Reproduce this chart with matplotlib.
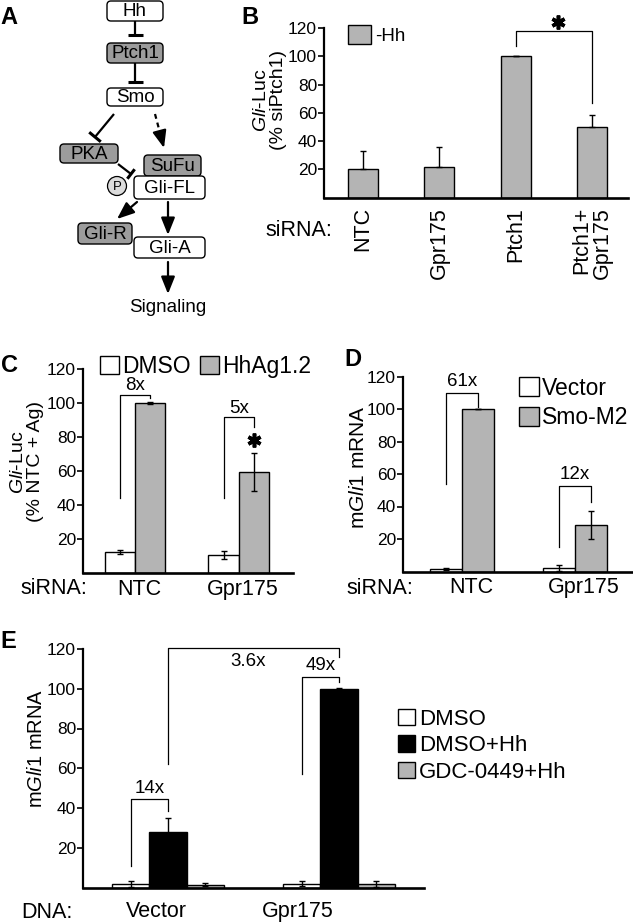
import numpy as np
import matplotlib
matplotlib.use("Agg")
import matplotlib.pyplot as plt
from matplotlib.patches import FancyBboxPatch, Circle

plt.rcParams["font.family"] = ["Liberation Sans", "DejaVu Sans"]
plt.rcParams["mathtext.fontset"] = "custom"
plt.rcParams["mathtext.rm"] = "Liberation Sans"
plt.rcParams["mathtext.it"] = "Liberation Sans:italic"

W, H = 633, 924
GREY = "#b4b4b4"
DARK = "#9c9c9c"
TICK_FS = 12.5
XLAB_FS = 15.5
FOLD_FS = 13.5
LEG_FS = 16.5

# ---- panel A: pathway nodes ----
A_NODES = ["Hh", "Ptch1", "Smo", "PKA", "SuFu", "Gli-FL", "Gli-R", "Gli-A"]
A_FILLED = [False, True, False, True, True, False, True, False]

# ---- panel B ----
B_LABELS = ["NTC", "Gpr175", "Ptch1", "Ptch1+\nGpr175"]
B_VALUES = [20, 21.5, 100, 50]
B_ERR = [13, 14.5, 0, 8.5]
B_SIG = [107, 118, 67]          # left leg, top, right leg

# ---- panel C ----
C_GROUPS = ["NTC", "Gpr175"]
C_DMSO = [12.3, 10.8]
C_DMSO_ERR = [1.3, 2.4]
C_AG = [100, 59.5]
C_AG_ERR = [0.4, 11]
C_FOLD = ["8x", "5x"]
C_BRACKET = [[44, 105, 103], [44, 92, 86]]
C_STAR = [False, True]

# ---- panel D ----
D_GROUPS = ["NTC", "Gpr175"]
D_VECTOR = [1.5, 2.0]
D_VECTOR_ERR = [0.8, 1.8]
D_SMO = [100, 28.5]
D_SMO_ERR = [0.3, 8.5]
D_FOLD = ["61x", "12x"]
D_BRACKET = [[54, 110, 101], [15, 52.5, 43]]

# ---- panel E ----
E_GROUPS = ["Vector", "Gpr175"]
E_DMSO = [2.0, 2.0]
E_DMSO_ERR = [1.5, 1.2]
E_HH = [28, 100]
E_HH_ERR = [7, 0.5]
E_GDC = [1.5, 1.8]
E_GDC_ERR = [0.8, 1.5]
E_FOLD = ["14x", "49x"]
E_BRACKET = [[11, 44.5, 38.5], [57, 106, 103.5]]
E_ACROSS = "3.6x"
E_ACROSS_BRACKET = [62, 120.5, 116]


def fx(px):
    return px / W


def fy(py):
    return 1 - py / H


def axes_px(left, top, right, bottom):
    return fig.add_axes([fx(left), fy(bottom), (right - left) / W, (bottom - top) / H])


def style(ax, xlim):
    ax.set_xlim(*xlim)
    ax.set_ylim(0, 120)
    ax.set_yticks([20, 40, 60, 80, 100, 120])
    for s in ["top", "right"]:
        ax.spines[s].set_visible(False)
    ax.spines["left"].set_linewidth(1.6)
    ax.spines["bottom"].set_linewidth(1.9)
    ax.tick_params(axis="y", direction="out", length=4, width=1.2, pad=1, labelsize=TICK_FS)
    ax.tick_params(axis="x", length=0, labelsize=XLAB_FS)


def bracket(ax, x0, x1, levels, text=None, tx=None, ty=None):
    y0, top, y1 = levels
    ax.plot([x0, x0, x1, x1], [y0, top, top, y1], color="black", lw=0.9, clip_on=False)
    if text:
        ax.text((x0 + x1) / 2 if tx is None else tx, top + 5 if ty is None else ty, text,
                ha="center", va="center", fontsize=FOLD_FS)


def star(ax, x, y):
    ax.plot(x, y, marker=(6, 2, 0), ms=10, mew=2.6, color="black", clip_on=False)


ERR_KW = dict(elinewidth=1.0, capthick=1.0, ecolor="black")

fig = plt.figure(figsize=(W / 100, H / 100), dpi=100)

# ================= A =================
axA = axes_px(0, 0, 230, 320)
axA.set_xlim(0, 230)
axA.set_ylim(320, 0)
axA.axis("off")

A_BOX = {"Hh": (107, 1, 163, 21), "Ptch1": (107, 43, 163, 63), "Smo": (107, 88, 163, 106),
         "PKA": (60, 144, 118, 163), "SuFu": (144, 155, 201, 176), "Gli-FL": (134, 176, 205, 199),
         "Gli-R": (78, 223, 132, 244), "Gli-A": (134, 237, 205, 258)}
for name, filled in zip(A_NODES, A_FILLED):
    x0, y0, x1, y1 = A_BOX[name]
    axA.add_patch(FancyBboxPatch((x0, y0), x1 - x0, y1 - y0, boxstyle="round,pad=0,rounding_size=4",
                                 fc=DARK if filled else "white", ec="black", lw=1.0))
    axA.text((x0 + x1) / 2, (y0 + y1) / 2 + 1, name, ha="center", va="center", fontsize=13.5)

axA.add_patch(Circle((117, 186), 9.5, fc="#dcdcdc", ec="black", lw=0.9))
axA.text(117, 187, "P", ha="center", va="center", fontsize=9.5)


def tbar(p0, p1, half=7.5):
    p0 = np.array(p0, float)
    p1 = np.array(p1, float)
    d = (p1 - p0) / np.linalg.norm(p1 - p0)
    n = np.array([-d[1], d[0]])
    axA.plot([p0[0], p1[0]], [p0[1], p1[1]], color="black", lw=1.6, solid_capstyle="butt")
    a, b = p1 + n * half, p1 - n * half
    axA.plot([a[0], b[0]], [a[1], b[1]], color="black", lw=2.2, solid_capstyle="butt")


def arrow(p0, p1, dashed=False):
    p0 = np.array(p0, float)
    p1 = np.array(p1, float)
    if dashed:
        # dashed shaft, then a solid head
        d = (p1 - p0) / np.linalg.norm(p1 - p0)
        mid = p1 - d * 9
        axA.plot([p0[0], mid[0]], [p0[1], mid[1]], color="black", lw=1.6, ls=(0, (2.2, 1.8)))
        p0 = mid - d * 0.5
    axA.annotate("", xy=p1, xytext=p0,
                 arrowprops=dict(arrowstyle="-|>,head_length=0.8,head_width=0.32", lw=1.6,
                                 color="black", shrinkA=0, shrinkB=0, mutation_scale=13))


tbar((135, 21), (135, 35))
tbar((135, 63), (135, 82))
tbar((114, 114), (95, 137))
tbar((118, 164), (131, 174), half=6)
arrow((155, 114), (164, 148), dashed=True)
arrow((137, 202), (117, 219))
arrow((168, 202), (168, 235))
arrow((168, 262), (168, 294))
axA.text(168, 307, "Signaling", ha="center", va="center", fontsize=13.5)

# ================= B =================
axB = axes_px(324, 28, 628, 197.5)
xb = np.arange(len(B_LABELS))
barsB = axB.bar(xb, B_VALUES, 0.39, color=GREY, edgecolor="black", lw=1.0,
                yerr=[np.zeros(len(B_ERR)), B_ERR], capsize=2.5, error_kw=ERR_KW)
style(axB, (-0.51, 3.47))
axB.set_xticks(xb)
axB.set_xticklabels(B_LABELS, rotation=90, va="top", ha="center", multialignment="right",
                    linespacing=0.95)
axB.tick_params(axis="x", pad=7)
bracket(axB, xb[2], xb[3], B_SIG)
star(axB, (xb[2] + xb[3]) / 2 + 0.05, 124)
axB.legend([barsB], ["-Hh"], loc="upper left", bbox_to_anchor=(0.079, 1.018), frameon=False,
           borderaxespad=0, borderpad=0, handlelength=1.2, handleheight=1.2,
           handletextpad=0.25, fontsize=13.5)
fig.text(fx(270), fy(100), r"$\mathit{Gli}$-Luc" + "\n(% siPtch1)", rotation=90,
         ha="center", va="center", fontsize=14, linespacing=1.0)
fig.text(fx(332), fy(230), "siRNA:", ha="right", va="center", fontsize=XLAB_FS)

# ================= C =================
axC = axes_px(83, 369, 293, 573)
xc = np.arange(len(C_GROUPS))
wc = 0.293
barsC1 = axC.bar(xc - wc / 2, C_DMSO, wc, color="white", edgecolor="black", lw=1.0,
                 yerr=C_DMSO_ERR, capsize=2, error_kw=ERR_KW)
barsC2 = axC.bar(xc + wc / 2, C_AG, wc, color=GREY, edgecolor="black", lw=1.0,
                 yerr=C_AG_ERR, capsize=2, error_kw=ERR_KW)
style(axC, (-0.5, 1.52))
axC.set_xticks(xc + 0.04)
axC.set_xticklabels(C_GROUPS)
axC.tick_params(axis="x", pad=4)
for i in range(len(C_GROUPS)):
    bracket(axC, xc[i] - wc / 2, xc[i] + wc / 2, C_BRACKET[i], C_FOLD[i])
    if C_STAR[i]:
        star(axC, xc[i] + wc / 2, C_AG[i] + C_AG_ERR[i] + 8)
axC.legend([barsC1, barsC2], ["DMSO", "HhAg1.2"], ncol=2, loc="upper left",
           bbox_to_anchor=(0.081, 1.07), frameon=False, borderaxespad=0, borderpad=0,
           handlelength=0.82, handleheight=0.85, handletextpad=0.15, columnspacing=0.4,
           fontsize=LEG_FS)
fig.text(fx(27), fy(462), r"$\mathit{Gli}$-Luc" + "\n(% NTC + Ag)", rotation=90,
         ha="center", va="center", fontsize=14, linespacing=1.0)
fig.text(fx(87), fy(588), "siRNA:", ha="right", va="center", fontsize=XLAB_FS)

# ================= D =================
axD = axes_px(403, 376.5, 632, 571.5)
xd = np.arange(len(D_GROUPS))
wd = 0.283
barsD1 = axD.bar(xd - wd / 2, D_VECTOR, wd, color="white", edgecolor="black", lw=1.0,
                 yerr=D_VECTOR_ERR, capsize=2, error_kw=ERR_KW)
barsD2 = axD.bar(xd + wd / 2, D_SMO, wd, color=GREY, edgecolor="black", lw=1.0,
                 yerr=D_SMO_ERR, capsize=2, error_kw=ERR_KW)
style(axD, (-0.522, 1.504))
axD.set_xticks(xd + 0.08)
axD.set_xticklabels(D_GROUPS)
axD.tick_params(axis="x", pad=4)
for i in range(len(D_GROUPS)):
    bracket(axD, xd[i] - wd / 2, xd[i] + wd / 2, D_BRACKET[i], D_FOLD[i], ty=D_BRACKET[i][1] + 7)
axD.legend([barsD1, barsD2], ["Vector", "Smo-M2"], loc="upper left",
           bbox_to_anchor=(0.507, 1.0), frameon=False, borderaxespad=0, borderpad=0,
           handlelength=0.85, handleheight=0.85, handletextpad=0.15, labelspacing=0.3,
           fontsize=LEG_FS)
fig.text(fx(358), fy(467), r"m$\mathit{Gli1}$ mRNA", rotation=90,
         ha="center", va="center", fontsize=15)
fig.text(fx(413), fy(588), "siRNA:", ha="right", va="center", fontsize=XLAB_FS)

# ================= E =================
axE = axes_px(83, 649, 424, 887.5)
xe = np.arange(len(E_GROUPS))
we = 0.219
barsE1 = axE.bar(xe - we, E_DMSO, we, color="white", edgecolor="black", lw=1.0,
                 yerr=E_DMSO_ERR, capsize=2, error_kw=ERR_KW)
barsE2 = axE.bar(xe, E_HH, we, color="black", edgecolor="black", lw=1.0,
                 yerr=E_HH_ERR, capsize=2, error_kw=ERR_KW)
barsE3 = axE.bar(xe + we, E_GDC, we, color=GREY, edgecolor="black", lw=1.0,
                 yerr=E_GDC_ERR, capsize=2, error_kw=ERR_KW)
style(axE, (-0.497, 1.497))
axE.set_xticks([xe[0] - 0.07, xe[1] - 0.24])
axE.set_xticklabels(E_GROUPS)
axE.tick_params(axis="x", pad=10)
for i in range(len(E_GROUPS)):
    bracket(axE, xe[i] - we, xe[i], E_BRACKET[i], E_FOLD[i], ty=E_BRACKET[i][1] + 5.5)
bracket(axE, xe[0], xe[1], E_ACROSS_BRACKET, E_ACROSS, tx=0.47, ty=113.5)
axE.legend([barsE1, barsE2, barsE3], ["DMSO", "DMSO+Hh", "GDC-0449+Hh"], loc="upper left",
           bbox_to_anchor=(0.924, 0.75), frameon=False, borderaxespad=0, borderpad=0,
           handlelength=0.78, handleheight=0.75, handletextpad=0.15, labelspacing=0.25,
           fontsize=16)
fig.text(fx(37), fy(748), r"m$\mathit{Gli1}$ mRNA", rotation=90,
         ha="center", va="center", fontsize=14.5)
fig.text(fx(73), fy(912), "DNA:", ha="right", va="center", fontsize=XLAB_FS)

# panel letters
for letter, (px, py) in zip("ABCDE", [(9, 18), (250, 17), (10, 365), (353, 360), (8, 642)]):
    fig.text(fx(px), fy(py), letter, ha="center", va="center", fontsize=17, fontweight="bold")

fig.savefig("out.png", dpi=100)
